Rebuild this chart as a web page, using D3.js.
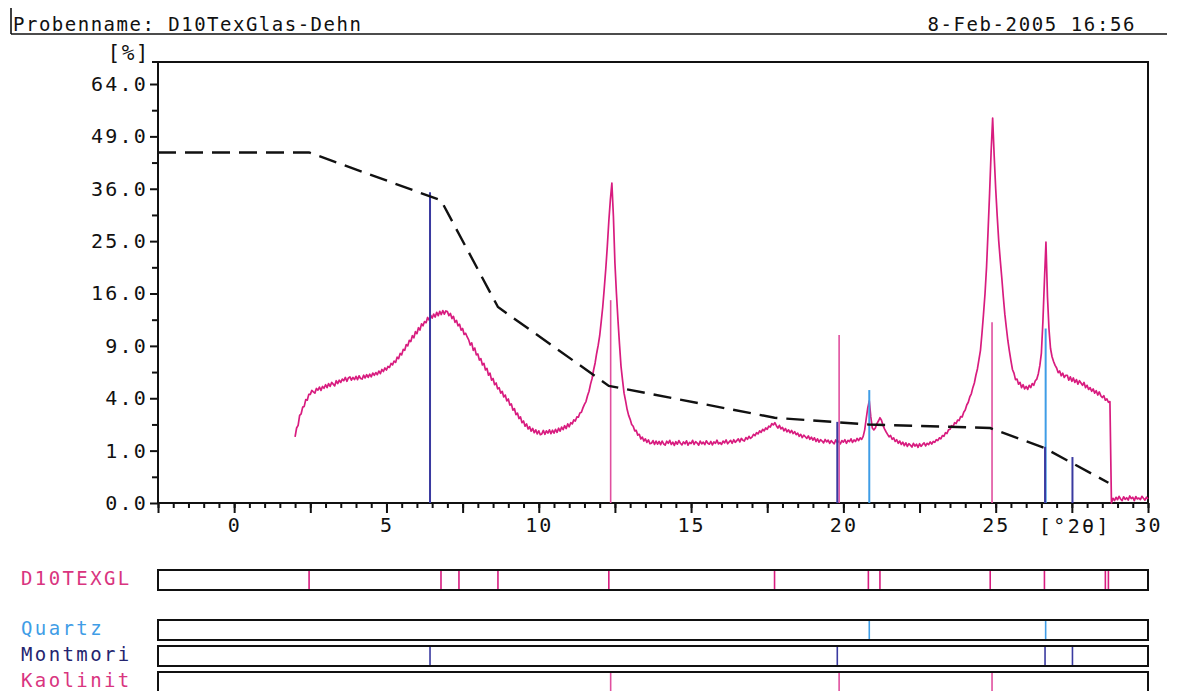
<!DOCTYPE html>
<html>
<head>
<meta charset="utf-8">
<script src="https://cdn.jsdelivr.net/npm/d3@7"></script>
<style>
  body { margin: 0; background: #fff; }
  text { font-family: "DejaVu Sans Mono", monospace; }
</style>
</head>
<body>
<svg id="chart" width="1179" height="691"></svg>
<script>
// ---- Measurement header ----
const sampleTitle = "Probenname: D10TexGlas-Dehn";
const sampleDate = "8-Feb-2005 16:56";

// ---- Diffractogram scan (intensity in %, 2θ grid from scanStart with scanStep) ----
const scanStart = 2.0;
const scanStep = 0.05;
const scanValues = [
  1.59, 2.05, 2.2, 2.8, 2.9, 3.35, 3.4, 3.9, 3.85, 4.3,            // 2.00 - 2.45
  4.3, 4.62, 4.5, 4.4, 4.78, 4.65, 4.9, 4.62, 4.95, 4.8,           // 2.50 - 2.95
  5.1, 4.85, 5.2, 4.95, 5.3, 5.15, 5.0, 5.45, 5.2, 5.5,            // 3.00
  5.3, 5.6, 5.45, 5.75, 5.4, 5.7, 5.8, 5.5, 5.75, 5.55,            // 3.50
  5.85, 5.55, 5.9, 5.65, 5.6, 5.95, 5.7, 6.0, 5.75, 6.05,          // 4.00
  5.8, 6.15, 5.95, 6.2, 6.0, 6.35, 6.1, 6.5, 6.3, 6.65,            // 4.50
  6.45, 6.8, 6.7, 7.1, 6.95, 7.35, 7.2, 7.75, 7.6, 8.15,           // 5.00
  8.0, 8.6, 8.5, 9.15, 9.0, 9.65, 9.5, 10.2, 9.95, 10.7,           // 5.50
  10.45, 11.2, 10.9, 11.7, 11.45, 12.0, 11.85, 12.55, 12.2, 12.85, // 6.00
  12.45, 13.0, 12.6, 13.25, 12.8, 13.4, 12.95, 13.5, 13.0, 13.45,  // 6.50
  13.35, 12.8, 13.1, 12.4, 12.7, 11.9, 12.15, 11.45, 11.65, 10.9,  // 7.00
  11.1, 10.35, 10.5, 10.05, 9.7, 9.1, 9.35, 8.5, 8.75, 8.0,        // 7.50
  8.1, 7.45, 7.6, 6.95, 7.1, 6.45, 6.6, 5.95, 6.15, 5.5,           // 8.00
  5.65, 5.1, 5.25, 4.75, 4.85, 4.4, 4.55, 4.1, 4.25, 3.8,          // 8.50
  3.95, 3.5, 3.58, 3.15, 3.25, 2.85, 2.95, 2.6, 2.7, 2.35,         // 9.00
  2.45, 2.15, 2.28, 2.0, 2.12, 1.88, 2.03, 1.8, 1.95, 1.74,        // 9.50
  1.9, 1.7, 1.74, 1.92, 1.72, 1.9, 1.78, 1.95, 1.75, 1.93,         // 10.00
  1.78, 1.98, 1.82, 2.04, 1.88, 2.1, 1.96, 2.18, 2.02, 2.28,       // 10.50
  2.12, 2.35, 2.28, 2.52, 2.45, 2.7, 2.68, 2.95, 3.0, 3.3,         // 11.00
  3.55, 3.75, 4.2, 4.55, 5.15, 5.65, 6.45, 7.15, 8.15, 9.05,       // 11.50
  10.2, 12.0, 14.0, 16.8, 20.0, 24.0, 29.0, 33.5, 37.3, 30.0,      // 12.00
  21.0, 16.0, 12.2, 9.2, 6.8, 5.5, 4.4, 3.8, 3.2, 2.8,             // 12.50
  2.55, 2.25, 2.15, 1.9, 1.92, 1.68, 1.72, 1.5, 1.58, 1.4,         // 13.00
  1.5, 1.34, 1.45, 1.28, 1.3, 1.42, 1.25, 1.4, 1.26, 1.38,         // 13.50
  1.24, 1.4, 1.27, 1.22, 1.39, 1.3, 1.43, 1.25, 1.35, 1.21,        // 14.00
  1.37, 1.26, 1.42, 1.3, 1.23, 1.36, 1.28, 1.41, 1.22, 1.34,       // 14.50
  1.29, 1.43, 1.25, 1.37, 1.31, 1.22, 1.4, 1.27, 1.35, 1.24,       // 15.00
  1.41, 1.3, 1.26, 1.38, 1.23, 1.36, 1.3, 1.44, 1.27, 1.33,        // 15.50
  1.25, 1.4, 1.32, 1.45, 1.28, 1.36, 1.43, 1.3, 1.46, 1.34,        // 16.00
  1.42, 1.5, 1.36, 1.52, 1.44, 1.4, 1.56, 1.48, 1.62, 1.52,        // 16.50
  1.58, 1.72, 1.65, 1.8, 1.74, 1.9, 1.82, 1.98, 1.9, 2.05,         // 17.00
  1.98, 2.15, 2.1, 2.3, 2.22, 2.35, 2.18, 2.05, 2.2, 2.0,          // 17.50
  2.08, 1.9, 2.02, 1.85, 1.95, 1.8, 1.92, 1.76, 1.85, 1.7,         // 18.00
  1.78, 1.62, 1.72, 1.56, 1.68, 1.6, 1.52, 1.64, 1.48, 1.58,       // 18.50
  1.44, 1.55, 1.38, 1.5, 1.35, 1.46, 1.4, 1.32, 1.47, 1.36,        // 19.00
  1.44, 1.3, 1.42, 1.34, 1.28, 1.45, 1.33, 1.4, 1.27, 1.42,        // 19.50
  1.35, 1.46, 1.3, 1.43, 1.37, 1.5, 1.34, 1.45, 1.38, 1.52,        // 20.00
  1.42, 1.55, 1.48, 1.62, 1.95, 2.6, 3.3, 3.8, 2.7, 2.05,          // 20.50
  1.95, 2.05, 2.3, 2.45, 2.65, 2.5, 2.2, 2.0, 1.85, 1.72,          // 21.00
  1.6, 1.66, 1.48, 1.55, 1.38, 1.46, 1.3, 1.4, 1.25, 1.35,         // 21.50
  1.2, 1.32, 1.17, 1.28, 1.22, 1.14, 1.3, 1.18, 1.26, 1.13,        // 22.00
  1.28, 1.17, 1.25, 1.32, 1.19, 1.3, 1.24, 1.36, 1.27, 1.38,       // 22.50
  1.34, 1.46, 1.42, 1.55, 1.5, 1.66, 1.62, 1.8, 1.76, 1.95,        // 23.00
  1.98, 2.18, 2.12, 2.35, 2.3, 2.5, 2.48, 2.72, 2.7, 3.0,          // 23.50
  3.15, 3.5, 3.7, 4.1, 4.35, 4.85, 5.25, 5.95, 6.55, 7.5,          // 24.00
  8.5, 10.5, 13.0, 16.0, 20.3, 27.0, 35.0, 45.0, 54.0, 44.0,       // 24.50
  36.0, 30.0, 25.0, 21.5, 18.5, 15.5, 13.0, 11.2, 9.6, 8.4,        // 25.00
  7.4, 6.5, 6.15, 5.55, 5.6, 5.15, 5.3, 4.85, 5.1, 4.75,           // 25.50
  4.95, 4.7, 5.05, 4.85, 5.2, 5.05, 5.45, 5.6, 6.1, 6.9,           // 26.00
  8.2, 12.0, 18.0, 24.8, 15.5, 11.0, 8.7, 7.8, 7.3, 6.9,           // 26.50
  6.65, 6.2, 6.35, 5.9, 6.15, 5.75, 5.95, 5.95, 5.5, 5.8,          // 27.00
  5.4, 5.7, 5.3, 5.55, 5.15, 5.45, 5.25, 5.05, 5.3, 4.85,          // 27.50
  5.05, 4.7, 4.85, 4.55, 4.75, 4.4, 4.6, 4.25, 4.5, 4.2,           // 28.00
  4.05, 4.2, 3.85, 3.95, 3.7, 3.75,                                // 28.50 - 28.75
  0.0, 0.008, 0.002, 0.012, 0.004, 0.016, 0.006, 0.002, 0.014, 0.005, // 28.80
  0.01, 0.003, 0.018, 0.007, 0.012, 0.002, 0.015, 0.006, 0.009, 0.004, // 29.30
  0.016, 0.008, 0.003, 0.012, 0.006                                // 29.80 - 30.00
];

// ---- Peak-search threshold curve (dashed) ----
const thresholdAngles = [-2.5, 2.46, 6.79, 8.66, 12.3, 17.74, 20.82, 24.82, 26.6, 28.7];
const thresholdValues = [44.8, 44.8, 33.4, 14.0, 5.0, 2.65, 2.25, 2.05, 1.1, 0.15];

// ---- Peaks found in the sample ----
const samplePeakAngles = [2.46, 6.79, 7.38, 8.66, 12.3, 17.74, 20.82, 21.2, 24.82, 26.6, 28.6, 28.7];

// ---- Reference phases: stick positions (°2θ) and relative intensities (%) ----
const quartzAngles = [20.85, 26.64];
const quartzValues = [4.65, 11.1];
const montmoriAngles = [6.43, 19.8, 26.62, 27.52];
const montmoriValues = [35.2, 2.4, 1.15, 0.77];
const kaolinitAngles = [12.36, 19.86, 24.88];
const kaolinitValues = [15.0, 10.3, 11.9];

// ---- Axis ticks ----
const yTickValues = [0, 1, 4, 9, 16, 25, 36, 49, 64];
const yMinorValues = [0.25, 2.25, 6.25, 12.25, 20.25, 30.25, 42.25, 56.25];
const xLabelValues = [0, 5, 10, 15, 20, 25, 30];
const xMajorTicks = [-2.5, 0, 2.5, 5, 7.5, 10, 12.5, 15, 17.5, 20, 22.5, 25, 27.5, 30];
const xMinorTicks = d3.range(-5, 61).map(i => i / 2);

// ---- Colours ----
const colScan = "#d81c7f";
const colQuartz = "#3f9de6";
const colMontmori = "#3a3aa0";
const colKaolinit = "#e04f9f";
const colSampleLabel = "#d9357f";
const colMontmoriLabel = "#25256f";

// ---- Layout ----
const svg = d3.select("#chart");
svg.append("rect").attr("width", 1179).attr("height", 691).attr("fill", "#fff");

const plot = { left: 158, right: 1148, top: 62, bottom: 503 };
const x = d3.scaleLinear().domain([-2.5, 30]).range([plot.left, plot.right]);
const y = d3.scaleSqrt().domain([0, 70.9]).range([plot.bottom, plot.top]);

// Header line with sample name and date
svg.append("line").attr("x1", 11).attr("x2", 1167).attr("y1", 34).attr("y2", 34)
  .attr("stroke", "#111").attr("stroke-width", 1.6);
svg.append("line").attr("x1", 11).attr("x2", 11).attr("y1", 8).attr("y2", 34)
  .attr("stroke", "#111").attr("stroke-width", 1.6);
svg.append("text").attr("x", 13).attr("y", 31).attr("font-size", 19)
  .attr("letter-spacing", 1.5).attr("fill", "#111").text(sampleTitle);
svg.append("text").attr("x", 1136).attr("y", 31).attr("font-size", 19)
  .attr("text-anchor", "end").attr("letter-spacing", 1.6).attr("fill", "#111").text(sampleDate);

// Plot frame
svg.append("rect").attr("x", plot.left).attr("y", plot.top)
  .attr("width", plot.right - plot.left).attr("height", plot.bottom - plot.top)
  .attr("fill", "none").attr("stroke", "#111").attr("stroke-width", 2);
svg.append("line").attr("x1", plot.left - 6).attr("x2", plot.left)
  .attr("y1", plot.top).attr("y2", plot.top).attr("stroke", "#111").attr("stroke-width", 2);

// Y axis (square-root intensity scale)
const yMinor = svg.append("g").attr("transform", `translate(${plot.left},0)`)
  .call(d3.axisLeft(y).tickValues(yMinorValues).tickSize(6).tickFormat(""));
const yMajor = svg.append("g").attr("transform", `translate(${plot.left},0)`)
  .call(d3.axisLeft(y).tickValues(yTickValues).tickSize(8).tickPadding(2).tickFormat(d3.format(".1f")));
[yMinor, yMajor].forEach(g => {
  g.select(".domain").remove();
  g.selectAll("line").attr("stroke", "#111").attr("stroke-width", 2);
});
yMajor.selectAll("text").attr("font-family", "DejaVu Sans Mono, monospace")
  .attr("font-size", 20).attr("letter-spacing", 2.2).attr("fill", "#111");
svg.append("text").attr("x", 150).attr("y", 60).attr("text-anchor", "end")
  .attr("font-size", 21).attr("letter-spacing", 1.5).attr("fill", "#111").text("[%]");

// X axis (°2θ)
const xMinor = svg.append("g").attr("transform", `translate(0,${plot.bottom})`)
  .call(d3.axisBottom(x).tickValues(xMinorTicks).tickSize(5).tickFormat(""));
const xMajor = svg.append("g").attr("transform", `translate(0,${plot.bottom})`)
  .call(d3.axisBottom(x).tickValues(xMajorTicks).tickSize(10).tickFormat(""));
const xLabels = svg.append("g").attr("transform", `translate(0,${plot.bottom})`)
  .call(d3.axisBottom(x).tickValues(xLabelValues).tickSize(0).tickPadding(15).tickFormat(d3.format("d")));
[xMinor, xMajor, xLabels].forEach(g => {
  g.select(".domain").remove();
  g.selectAll("line").attr("stroke", "#111").attr("stroke-width", 2);
});
xLabels.selectAll("text").attr("font-family", "DejaVu Sans Mono, monospace")
  .attr("font-size", 20).attr("letter-spacing", 2).attr("fill", "#111");
svg.append("text").attr("x", x(27.6)).attr("y", 533).attr("text-anchor", "middle")
  .attr("font-size", 20).attr("letter-spacing", 2.4).attr("fill", "#111").text("[°2θ]");

// Scan curve
const scan = scanValues.map((v, i) => ({ t: scanStart + i * scanStep, v }));
const line = d3.line().x(d => x(d.t)).y(d => y(d.v));
svg.append("path").datum(scan).attr("d", line)
  .attr("fill", "none").attr("stroke", colScan).attr("stroke-width", 1.7)
  .attr("stroke-linejoin", "round");

// Reference phase sticks inside the plot
function sticks(angles, values, colour, width) {
  svg.append("g").selectAll("line").data(angles).join("line")
    .attr("x1", d => x(d)).attr("x2", d => x(d))
    .attr("y1", y(0)).attr("y2", (d, i) => y(values[i]))
    .attr("stroke", colour).attr("stroke-width", width);
}
sticks(kaolinitAngles, kaolinitValues, colKaolinit, 1.6);
sticks(quartzAngles, quartzValues, colQuartz, 2);
sticks(montmoriAngles, montmoriValues, colMontmori, 2);

// Dashed threshold
const thr = thresholdAngles.map((t, i) => ({ t, v: thresholdValues[i] }));
svg.append("path").datum(thr).attr("d", line)
  .attr("fill", "none").attr("stroke", "#111").attr("stroke-width", 2.4)
  .attr("stroke-dasharray", "18,9");

// Stick-pattern strips below the plot
const strips = [
  { name: "D10TEXGL", angles: samplePeakAngles, colour: colScan, label: colSampleLabel, top: 570 },
  { name: "Quartz", angles: quartzAngles, colour: colQuartz, label: colQuartz, top: 620 },
  { name: "Montmori", angles: montmoriAngles, colour: colMontmori, label: colMontmoriLabel, top: 646 },
  { name: "Kaolinit", angles: kaolinitAngles, colour: colKaolinit, label: colSampleLabel, top: 672 }
];
const stripH = 20;
strips.forEach(s => {
  const g = svg.append("g");
  g.selectAll("line").data(s.angles).join("line")
    .attr("x1", d => x(d)).attr("x2", d => x(d))
    .attr("y1", s.top).attr("y2", s.top + stripH)
    .attr("stroke", s.colour).attr("stroke-width", 1.6);
  g.append("rect").attr("x", plot.left).attr("y", s.top)
    .attr("width", x(30) - plot.left).attr("height", stripH)
    .attr("fill", "none").attr("stroke", "#111").attr("stroke-width", 2);
  g.append("text").attr("x", 21).attr("y", s.top + 15).attr("font-size", 19)
    .attr("letter-spacing", 2.4).attr("fill", s.label).text(s.name);
});
</script>
</body>
</html>
